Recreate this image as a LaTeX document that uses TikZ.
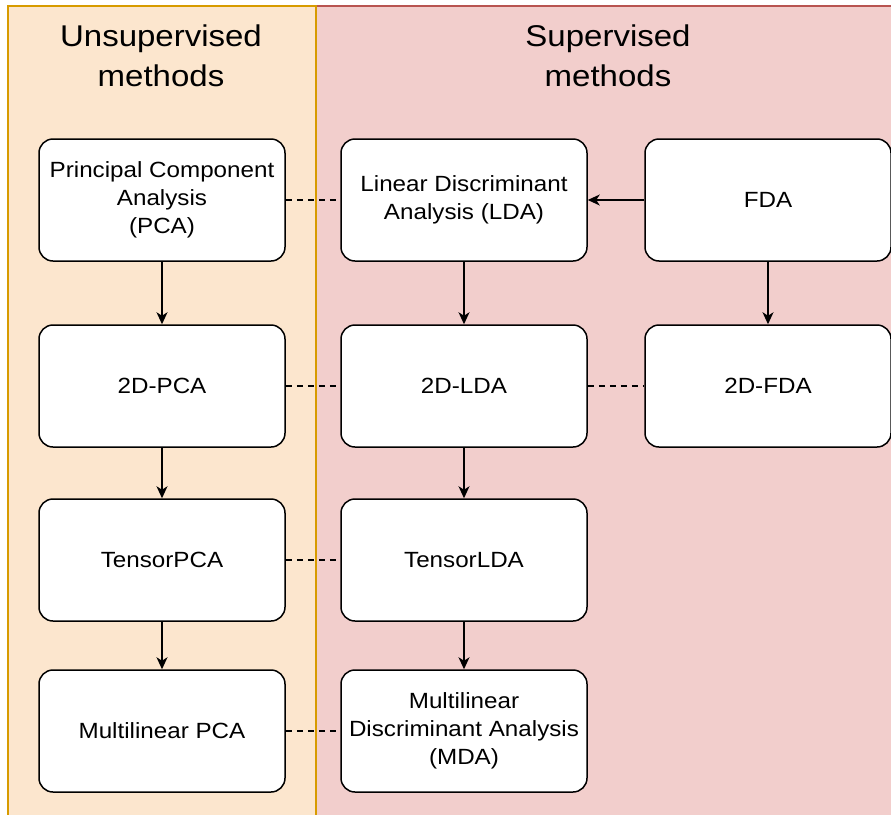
\documentclass[tikz,border=0pt]{standalone}
\usepackage{fontspec}
\setmainfont{Liberation Sans}
\newfontfamily\boxfont[FakeStretch=1.1]{Liberation Sans}
\usetikzlibrary{arrows.meta}

\definecolor{unsupFill}{HTML}{FCE6CE}
\definecolor{unsupLine}{HTML}{D79B00}
\definecolor{supFill}{HTML}{F2CECC}
\definecolor{supLine}{HTML}{B85450}

\begin{document}
\begin{tikzpicture}[x=1pt,y=1pt,
  panel/.style={line width=1.3pt},
  heading/.style={align=center, font=\boxfont\fontsize{30}{40}\selectfont},
  method/.style={draw=black, fill=white, rounded corners=14pt,
    minimum width=246pt, minimum height=122pt, inner sep=0pt,
    align=center, line width=1.5pt,
    font=\boxfont\fontsize{22}{28}\selectfont},
  flow/.style={-{Stealth[length=12pt,width=11pt,inset=3.5pt]}, line width=1.5pt},
  link/.style={dash pattern=on 6pt off 5pt, line width=1.5pt}
]
\clip (0,0) rectangle (891,-814);
\fill[white] (0,0) rectangle (891,-814);

% swimlanes
\draw[panel, fill=supFill, draw=supLine] (316,-6) rectangle (905,-830);
\draw[panel, fill=unsupFill, draw=unsupLine] (8,-6) rectangle (316,-830);

\node[heading] (hUnsup) at (161,-56) {Unsupervised\\methods};
\node[heading] (hSup) at (608,-56) {Supervised\\methods};

% unsupervised column
\node[method] (pca)   at (162,-200) {Principal Component\\Analysis\\(PCA)};
\node[method] (pca2)  at (162,-386) {2D-PCA};
\node[method] (tpca)  at (162,-560) {TensorPCA};
\node[method] (mpca)  at (162,-731) {Multilinear PCA};

% supervised columns
\node[method] (lda)   at (464,-200) {Linear Discriminant\\Analysis (LDA)};
\node[method] (lda2)  at (464,-386) {2D-LDA};
\node[method] (tlda)  at (464,-560) {TensorLDA};
\node[method] (mda)   at (464,-731) {Multilinear\\Discriminant Analysis\\(MDA)};

\node[method] (fda)   at (768,-200) {FDA};
\node[method] (fda2)  at (768,-386) {2D-FDA};

% derivations
\draw[flow] (pca) -- (pca2);
\draw[flow] (pca2) -- (tpca);
\draw[flow] (tpca) -- (mpca);
\draw[flow] (lda) -- (lda2);
\draw[flow] (lda2) -- (tlda);
\draw[flow] (tlda) -- (mda);
\draw[flow] (fda) -- (lda);
\draw[flow] (fda) -- (fda2);

% counterparts
\draw[link] (pca) -- (lda);
\draw[link] (pca2) -- (lda2);
\draw[link] (lda2) -- (fda2);
\draw[link] (tpca) -- (tlda);
\draw[link] (mpca) -- (mda);
\end{tikzpicture}
\end{document}
